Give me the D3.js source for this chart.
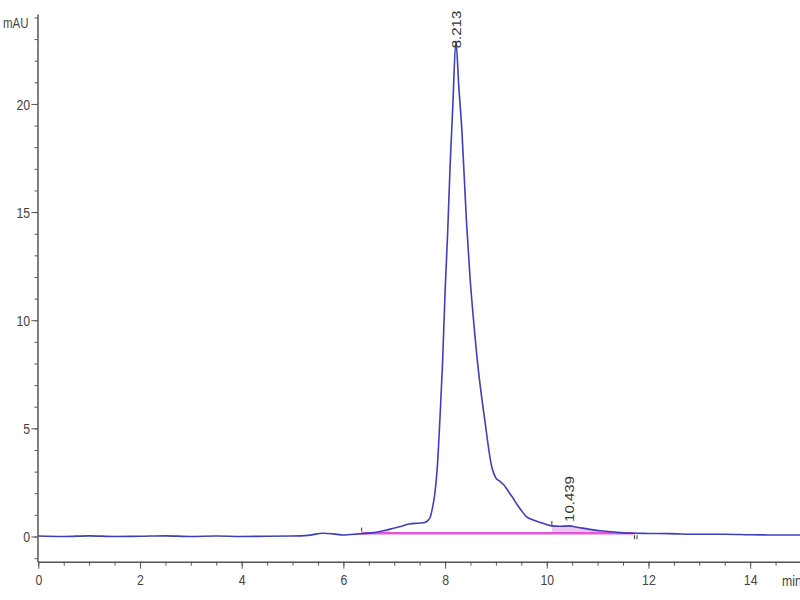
<!DOCTYPE html>
<html>
<head>
<meta charset="utf-8">
<script src="https://cdn.jsdelivr.net/npm/d3@7"></script>
<style>
  body { margin: 0; background: #fff; }
  svg { display: block; }
  .axis path, .axis line { stroke: #555; }
  .axis text { fill: #444; font-family: "Liberation Sans", Arial, sans-serif; font-size: 15px; }
</style>
</head>
<body>
<div id="chart"></div>
<script>
// retention time (min) and signal (mAU)
var times = [0, 0.5, 1, 1.5, 2, 2.5, 3, 3.5, 4, 4.5, 5, 5.3, 5.6, 5.8, 6.0, 6.3, 6.6, 6.9, 7.1, 7.3,
  7.5, 7.6, 7.7, 7.75, 7.8, 7.85, 7.9, 7.95, 8.0, 8.05, 8.1, 8.15, 8.213, 8.27, 8.33, 8.42, 8.49,
  8.56, 8.65, 8.78, 8.92, 9.0, 9.08, 9.15, 9.24, 9.33, 9.41, 9.5, 9.6, 9.75, 9.87, 10.0, 10.1,
  10.25, 10.439, 10.6, 10.85, 11.1, 11.44, 11.7, 12.0, 12.4, 13.0, 13.5, 14.0, 14.5, 15.0];
var signal = [0.02, 0.0, 0.03, 0.0, 0.01, 0.03, 0.0, 0.02, 0.0, 0.01, 0.02, 0.05, 0.15, 0.12, 0.07, 0.12, 0.18, 0.33, 0.45, 0.58,
  0.62, 0.65, 0.85, 1.3, 2.0, 3.3, 5.5, 8.0, 11.3, 14.0, 17.2, 19.8, 22.9, 20.8, 18.8, 14.6, 12.0,
  10.0, 7.8, 5.4, 3.2, 2.7, 2.55, 2.4, 2.1, 1.8, 1.5, 1.2, 0.92, 0.75, 0.65, 0.55, 0.49,
  0.47, 0.49, 0.43, 0.33, 0.25, 0.18, 0.15, 0.14, 0.13, 0.10, 0.10, 0.08, 0.07, 0.07];

// peak labels
var peakTimes = [8.213, 10.439];
var peakLabels = ["8.213", "10.439"];
var peakHeights = [22.9, 0.49];

// integration baseline and event marks
var baseTimes = [6.36, 11.73];
var baseValues = [0.15, 0.15];
var eventTimes = [6.36, 10.1];
var endTime = 11.75;

var xTicks = [0, 2, 4, 6, 8, 10, 12, 14];
var yTicks = [0, 5, 10, 15, 20];

var data = times.map(function (t, i) { return { t: t, v: signal[i] }; });

var width = 800, height = 600;
var svg = d3.select("#chart").append("svg")
  .attr("width", width).attr("height", height);

var x = d3.scaleLinear().domain([0, 15]).range([38.3, 801]);
var y = d3.scaleLinear().domain([-1.166, 24.16]).range([561.7, 14]);

// minor ticks
svg.append("g").attr("class", "axis")
  .attr("transform", "translate(0,561.7)")
  .call(d3.axisBottom(x).tickValues(d3.range(0, 15.01, 0.5)).tickSize(4).tickFormat(""))
  .call(function (g) { g.select(".domain").remove(); });
svg.append("g").attr("class", "axis")
  .attr("transform", "translate(37.5,0)")
  .call(d3.axisLeft(y).tickValues(d3.range(-1, 25, 1)).tickSize(3).tickFormat(""))
  .call(function (g) { g.select(".domain").remove(); });

// major axes
var xAxis = svg.append("g").attr("class", "axis")
  .attr("transform", "translate(0,561.7)")
  .call(d3.axisBottom(x).tickValues(xTicks).tickSize(7).tickSizeOuter(0).tickPadding(6));
xAxis.select(".domain").attr("stroke-width", 1.5);
xAxis.selectAll("text").attr("transform", "scale(0.82,1)");

var yAxis = svg.append("g").attr("class", "axis")
  .attr("transform", "translate(37.5,0)")
  .call(d3.axisLeft(y).tickValues(yTicks).tickSize(6).tickSizeOuter(0).tickPadding(3));
yAxis.select(".domain").attr("stroke-width", 1.5);
yAxis.selectAll("text").attr("transform", "scale(0.82,1)").attr("dy", "0.36em");

// axis titles
svg.append("text").text("mAU")
  .attr("transform", "translate(3,28) scale(0.82,1)")
  .attr("font-family", "Liberation Sans, Arial, sans-serif").attr("font-size", 14).attr("fill", "#444");
svg.append("text").text("min")
  .attr("transform", "translate(782,586) scale(0.82,1)")
  .attr("font-family", "Liberation Sans, Arial, sans-serif").attr("font-size", 15).attr("fill", "#444");

// shaded integration areas
var area = d3.area().curve(d3.curveMonotoneX)
  .x(function (d) { return x(d.t); })
  .y0(y(baseValues[0]))
  .y1(function (d) { return y(d.v); });
svg.append("path")
  .datum(data.filter(function (d) { return d.t >= eventTimes[1] && d.t <= baseTimes[1]; }))
  .attr("d", area).attr("fill", "#d040d0").attr("opacity", 0.3);
svg.append("path")
  .datum(data.filter(function (d) { return d.t >= baseTimes[0] && d.t <= 7.0; }))
  .attr("d", area).attr("fill", "#d040d0").attr("opacity", 0.3);

// baseline
svg.append("line")
  .attr("x1", x(baseTimes[0])).attr("x2", x(baseTimes[1]))
  .attr("y1", y(baseValues[0])).attr("y2", y(baseValues[1]))
  .attr("stroke", "#e356d8").attr("stroke-width", 2.5);

// trace
var line = d3.line().curve(d3.curveMonotoneX)
  .x(function (d) { return x(d.t); })
  .y(function (d) { return y(d.v); });
svg.append("path").datum(data)
  .attr("d", line)
  .attr("fill", "none")
  .attr("stroke", "#3e3ebf")
  .attr("stroke-width", 1.6)
  .attr("stroke-linejoin", "round");

// event marks
eventTimes.forEach(function (t) {
  var idx = d3.bisectLeft(times, t);
  var yy = y(signal[Math.min(idx, signal.length - 1)]);
  svg.append("line")
    .attr("x1", x(t)).attr("x2", x(t))
    .attr("y1", yy - 5).attr("y2", yy - 1)
    .attr("stroke", "#333").attr("stroke-width", 1);
});
[-1.3, 1.3].forEach(function (dx) {
  svg.append("line")
    .attr("x1", x(endTime) + dx).attr("x2", x(endTime) + dx)
    .attr("y1", y(baseValues[1]) + 2).attr("y2", y(baseValues[1]) + 6)
    .attr("stroke", "#333").attr("stroke-width", 1);
});

// peak labels (rotated)
var labelOffsets = [7, -4];
peakTimes.forEach(function (t, i) {
  svg.append("text").text(peakLabels[i])
    .attr("transform", "translate(" + (x(t) + 1) + "," + (y(peakHeights[i]) + labelOffsets[i]) + ") scale(0.82,1) rotate(-90)")
    .attr("dy", "0.35em")
    .attr("font-family", "Liberation Sans, Arial, sans-serif")
    .attr("font-size", 15)
    .attr("fill", "#333");
});
</script>
</body>
</html>
